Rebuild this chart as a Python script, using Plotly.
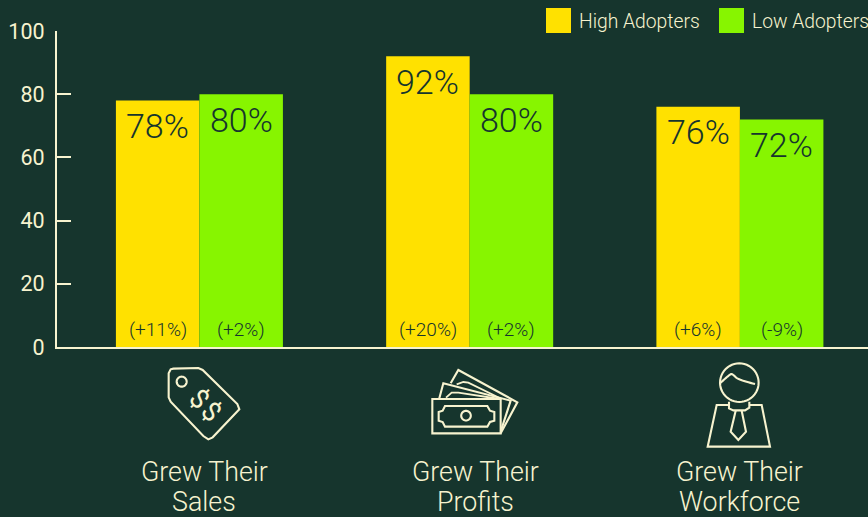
import math
import plotly.graph_objects as go

categories = ["Grew Their Sales", "Grew Their Profits", "Grew Their Workforce"]
high_adopters = [78, 92, 76]
low_adopters = [80, 80, 72]
high_changes = ["(+11%)", "(+20%)", "(+6%)"]
low_changes = ["(+2%)", "(+2%)", "(-9%)"]
y_ticks = [0, 20, 40, 60, 80, 100]
series_names = ["High Adopters", "Low Adopters"]
category_lines = [("Grew Their", "Sales"), ("Grew Their", "Profits"), ("Grew Their", "Workforce")]

BG = "#16352D"
CREAM = "#F7F3CF"
YELLOW = "#FFE100"
GREEN = "#87F500"
DARK = "#16352D"
FONT = "Roboto"
W, H = 868, 517
L, T, R_, B = 57, 31, 868, 347


def px(x, y):
    return (x - L) / (R_ - L), (B - y) / (B - T)


def path(points, close=False):
    d = ""
    for i, (x, y) in enumerate(points):
        a, b = px(x, y)
        d += f"{'M' if i == 0 else 'L'}{a:.5f},{b:.5f} "
    return d + ("Z" if close else "")


def zoomed(points, ox, oy):
    return [(ox + x / 3, oy + y / 3) for x, y in points]


def circle(cx, cy, r):
    return path([(cx + r * math.cos(t / 48 * 2 * math.pi), cy + r * math.sin(t / 48 * 2 * math.pi)) for t in range(48)], True)


def smooth(points, ox, oy, n=14):
    """Quadratic-smoothed polyline through control points (icon outlines only)."""
    pts = zoomed(points, ox, oy)
    out = [pts[0]]
    for i in range(1, len(pts) - 1):
        p0 = out[-1] if i == 1 else ((pts[i - 1][0] + pts[i][0]) / 2, (pts[i - 1][1] + pts[i][1]) / 2)
        p1 = pts[i]
        p2 = pts[i + 1] if i == len(pts) - 2 else ((pts[i][0] + pts[i + 1][0]) / 2, (pts[i][1] + pts[i + 1][1]) / 2)
        for k in range(1, n + 1):
            t = k / n
            out.append(((1 - t) ** 2 * p0[0] + 2 * t * (1 - t) * p1[0] + t * t * p2[0],
                        (1 - t) ** 2 * p0[1] + 2 * t * (1 - t) * p1[1] + t * t * p2[1]))
    return path(out)


fig = go.Figure()
fig.add_bar(name=series_names[0], x=categories, y=high_adopters, marker_color=YELLOW, marker_line_width=0)
fig.add_bar(name=series_names[1], x=categories, y=low_adopters, marker_color=GREEN, marker_line_width=0)

shapes = []


def icon(d, width=2.1):
    shapes.append(dict(type="path", xref="paper", yref="paper", path=d,
                       line=dict(color=CREAM, width=width), layer="above"))


# Price tag
icon(path(zoomed([(130, 56), (205, 54), (218, 60), (322, 162), (328, 178), (248, 262), (235, 268),
                  (220, 258), (122, 155), (116, 142), (116, 70), (122, 58)], 130, 350), True))
icon(circle(130 + 155 / 3, 350 + 95 / 3, 5))

# Banknotes
O = (410, 350)
icon(path(zoomed([(67, 147), (272, 147), (272, 250), (67, 250)], *O), True))
icon(path(zoomed([(105, 168), (232, 168), (240, 182), (253, 186), (253, 212), (240, 216), (232, 230),
                  (105, 230), (98, 216), (86, 212), (86, 186), (98, 182)], *O), True))
icon(circle(410 + 168 / 3, 350 + 197 / 3, 4.8))
icon(path(zoomed([(88, 145), (100, 100), (302, 152), (272, 245)], *O)))
icon(path(zoomed([(122, 100), (145, 60), (322, 157), (272, 250)], *O)))
icon(path(zoomed([(108, 143), (125, 128), (145, 128), (270, 147)], *O)), 1.8)
icon(path(zoomed([(140, 103), (160, 96), (175, 98), (275, 147)], *O)), 1.8)

# Person
O = (680, 350)
icon(circle(680 + 178 / 3, 350 + 98 / 3, 19.3))
icon(smooth([(120, 100), (150, 72), (158, 72), (175, 90), (225, 102)], *O))
icon(path(zoomed([(147, 155), (147, 175), (160, 181), (195, 181), (208, 173), (208, 155)], *O)))
icon(path(zoomed([(147, 165), (110, 165), (83, 290), (270, 290), (245, 165), (208, 165)], *O)))
icon(path(zoomed([(167, 182), (152, 245), (175, 270), (198, 245), (185, 182)], *O)))

# Legend
for x0, color in [(546, YELLOW), (719, GREEN)]:
    a0, b0 = px(x0, 33)
    a1, b1 = px(x0 + 25, 8)
    shapes.append(dict(type="rect", xref="paper", yref="paper", x0=a0, x1=a1, y0=b0, y1=b1,
                       fillcolor=color, line_width=0, layer="above"))

annotations = []
half = 41.75
for i, c in enumerate(categories):
    for txt, sh in [(high_changes[i], -half), (low_changes[i], half)]:
        annotations.append(dict(x=c, y=0, xref="x", yref="y", text=txt, showarrow=False, xshift=sh,
                                yanchor="bottom", yshift=4, xanchor="center",
                                font=dict(family=FONT, size=19, color=DARK, weight=300)))
    for v, sh in [(high_adopters[i], -half), (low_adopters[i], half)]:
        annotations.append(dict(x=c, y=v, xref="x", yref="y", text=f"{v}%", showarrow=False, xshift=sh,
                                yanchor="middle", yshift=-25.5, xanchor="center",
                                font=dict(family=FONT, size=34, color=DARK, weight=300)))

for x, lines in zip([204, 475, 739], category_lines):
    for y, line in zip([472, 501.5], lines):
        a, b = px(x, y)
        annotations.append(dict(x=a, y=b, xref="paper", yref="paper", text=line, showarrow=False,
                                xanchor="center", yanchor="middle",
                                font=dict(family=FONT, size=26.8, color=CREAM, weight=300)))

for x, name in [(579, series_names[0]), (752, series_names[1])]:
    a, b = px(x, 21)
    annotations.append(dict(x=a, y=b, xref="paper", yref="paper", text=name, showarrow=False, xanchor="left",
                            yanchor="middle", xshift=-2, font=dict(family=FONT, size=19.3, color=CREAM, weight=300)))

for x, y in [(199.3, 398.5), (211.7, 411.5)]:
    a, b = px(x, y)
    annotations.append(dict(x=a, y=b, xref="paper", yref="paper", text="$", showarrow=False, textangle=45,
                            xanchor="center", yanchor="middle",
                            font=dict(family=FONT, size=27, color=CREAM, weight=400)))

fig.update_layout(
    width=W, height=H, autosize=False,
    margin=dict(l=L, r=W - R_, t=T, b=H - B, pad=0),
    paper_bgcolor=BG, plot_bgcolor=BG,
    barmode="group", bargap=0.382, bargroupgap=0,
    showlegend=False, shapes=shapes, annotations=annotations,
    font=dict(family=FONT, color=CREAM),
    xaxis=dict(range=[-0.527, 2.474], showgrid=False, showline=True, linecolor=CREAM, linewidth=2.3,
               showticklabels=False, ticks="", zeroline=False),
    yaxis=dict(range=[0, 100], tickvals=y_ticks, showgrid=False, showline=True, linecolor=CREAM, linewidth=2.3,
               ticks="inside", ticklen=14, tickwidth=2.3, tickcolor=CREAM, zeroline=False, ticklabelstandoff=6,
               tickfont=dict(family=FONT, size=21.5, color=CREAM, weight=400)),
)
fig.write_html("out.html", config=dict(displayModeBar=False),
               post_script="document.body.style.margin='0';document.documentElement.style.background='#16352D';document.documentElement.style.overflow='hidden';")
